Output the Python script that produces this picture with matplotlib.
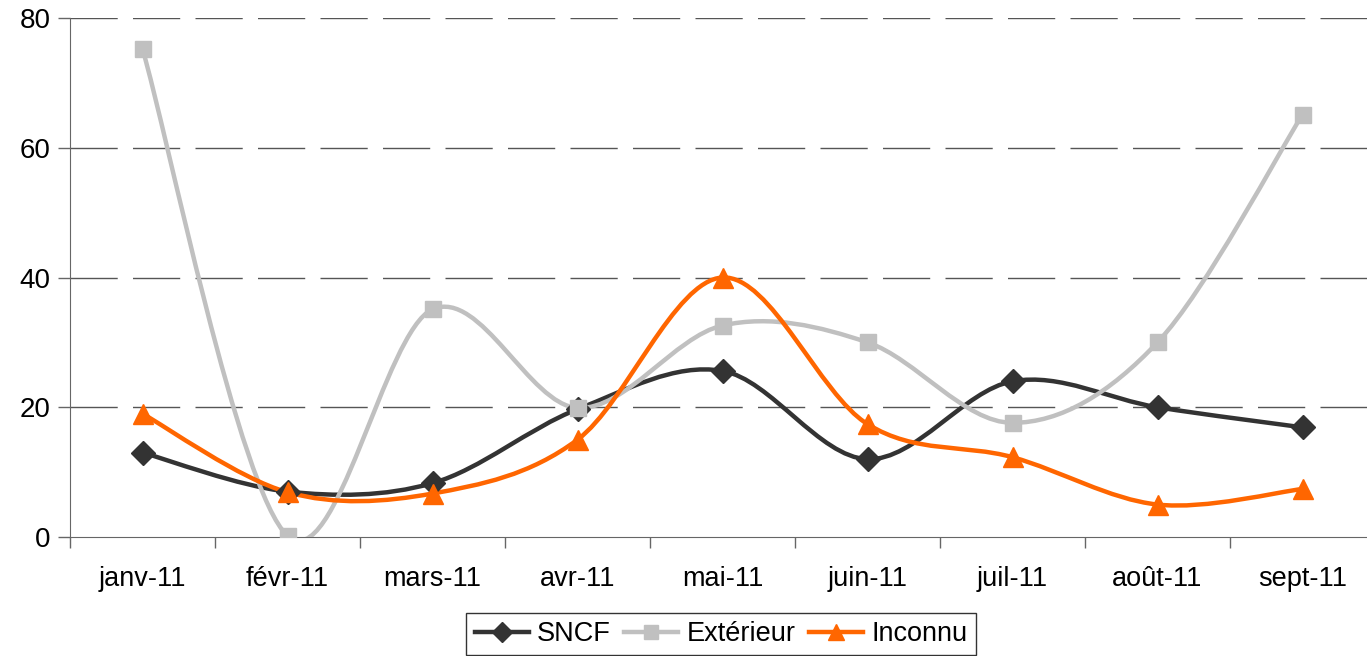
import numpy as np
import matplotlib.pyplot as plt
from matplotlib.path import Path
from matplotlib.patches import PathPatch
from matplotlib.lines import Line2D

plt.rcParams['font.family'] = ['Liberation Sans', 'DejaVu Sans']

mois = ['janv-11', 'févr-11', 'mars-11', 'avr-11', 'mai-11', 'juin-11', 'juil-11', 'août-11', 'sept-11']
sncf = [13, 7, 8.3, 19.7, 25.6, 12, 24, 20, 16.9]
exterieur = [75.2, 0.2, 35.1, 19.9, 32.6, 30, 17.6, 30, 65.1]
inconnu = [19, 6.9, 6.7, 15, 40, 17.4, 12.3, 5, 7.4]


def smooth_path(x, y):
    # courbe lissee facon excel (bezier catmull-rom)
    pts = np.column_stack([x, y]).astype(float)
    n = len(pts)
    verts = [pts[0]]
    codes = [Path.MOVETO]
    for i in range(n - 1):
        p0 = pts[max(i - 1, 0)]
        p1 = pts[i]
        p2 = pts[i + 1]
        p3 = pts[min(i + 2, n - 1)]
        c1 = p1 + (p2 - p0) / 6.0
        c2 = p2 - (p3 - p1) / 6.0
        verts += [c1, c2, p2]
        codes += [Path.CURVE4] * 3
    return Path(verts, codes)


fig = plt.figure(figsize=(13.67, 6.56), dpi=100)
ax = fig.add_axes([70 / 1367, 1 - 537 / 656, 1305 / 1367, 519 / 656])

x = np.arange(len(mois))
series = [
    ('SNCF', sncf, '#333333', 'D', 12),
    ('Extérieur', exterieur, '#c0c0c0', 's', 12),
    ('Inconnu', inconnu, '#ff6600', '^', 14),
]
handles = []
for nom, vals, col, mk, ms in series:
    p = PathPatch(smooth_path(x, vals), facecolor='none', edgecolor=col, lw=3.2, zorder=3,
                  capstyle='round', joinstyle='round')
    ax.add_patch(p)
    ax.plot(x, vals, linestyle='none', marker=mk, markersize=ms, color=col, zorder=4)
    handles.append(Line2D([], [], color=col, lw=3.2, marker=mk, markersize=ms * 0.85, label=nom))

ax.set_xlim(-0.5, 8.5)
ax.set_ylim(0, 80)
ax.set_yticks([0, 20, 40, 60, 80])
ax.set_xticks(x)
ax.set_xticklabels(mois)
ax.set_xticks(np.arange(-0.5, 9, 1), minor=True)
ax.tick_params(axis='x', which='major', length=0, pad=21, labelsize=19.5)
ax.tick_params(axis='x', which='minor', length=8, width=1, color='#666666')
ax.tick_params(axis='y', length=9, width=1, color='#666666', labelsize=20, pad=5)

for v in [20, 40, 60, 80]:
    ax.axhline(v, color='#555555', lw=1, dashes=(34, 11), zorder=1)

for s in ['top', 'right']:
    ax.spines[s].set_visible(False)
ax.spines['left'].set_color('#666666')
ax.spines['bottom'].set_color('#666666')

leg = fig.legend(handles=handles, loc='upper center', bbox_to_anchor=(721 / 1367, 1 - 613 / 656),
                 ncol=3, fontsize=19.5, frameon=True, fancybox=False, edgecolor='black',
                 handlelength=2.0, handletextpad=0.3, columnspacing=0.5, borderpad=0.3,
                 borderaxespad=0)
leg.get_frame().set_linewidth(1)

fig.savefig('out.png', dpi=100)
